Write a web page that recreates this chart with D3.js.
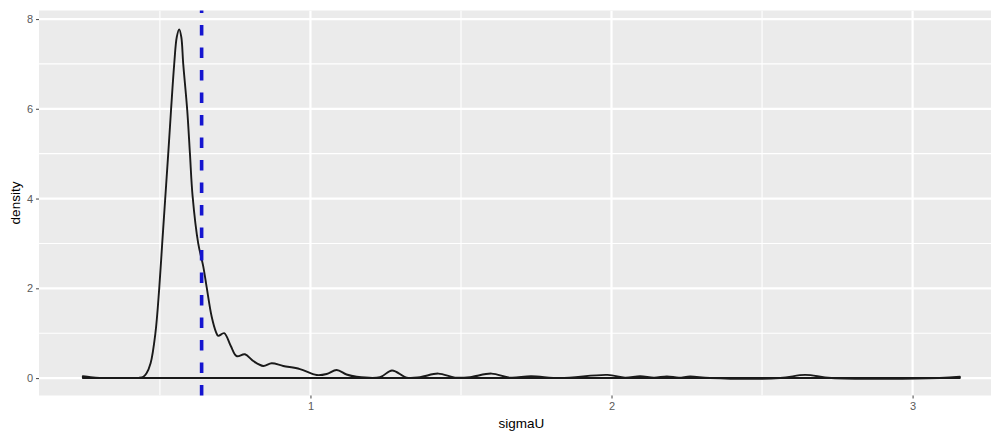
<!DOCTYPE html>
<html>
<head>
<meta charset="utf-8">
<script src="https://cdn.jsdelivr.net/npm/d3@7"></script>
<style>
  html, body { margin: 0; padding: 0; background: #ffffff; }
  svg { display: block; }
  text { font-family: "Liberation Sans", Arial, sans-serif; }
</style>
</head>
<body>
<svg id="chart" width="991" height="432"></svg>
<script>
// Kernel density estimate of sigmaU (x) and its density (y)
const sigmaU = [0.244, 0.27, 0.30, 0.35, 0.40, 0.43, 0.445, 0.455, 0.469, 0.485, 0.4977, 0.5076, 0.5176, 0.5276, 0.5372,
  0.5475, 0.556, 0.564, 0.571, 0.5774, 0.5907, 0.5997, 0.6086, 0.6272, 0.6439, 0.6551, 0.6718, 0.686, 0.6937,
  0.7133, 0.735, 0.7548, 0.7824, 0.81, 0.8432, 0.8711, 0.9096, 0.9651, 1.0206, 1.0538, 1.087, 1.12, 1.1535, 1.2309,
  1.2708, 1.3196, 1.3638, 1.4246, 1.48, 1.53, 1.6013, 1.6628, 1.7326, 1.83, 1.9867, 2.045, 2.095, 2.141,
  2.184, 2.224, 2.261, 2.327, 2.56, 2.643, 2.73, 3.09, 3.157];
const density = [0.04, 0.02, 0.005, 0.0, 0.0, 0.005, 0.03, 0.1, 0.33, 1.0, 2.0, 3.0, 4.0, 5.0, 6.0,
  7.0, 7.6, 7.77, 7.6, 7.0, 5.97, 5.0, 4.05, 3.0, 2.49, 2.03, 1.37, 1.03, 0.94,
  1.0, 0.72, 0.49, 0.53, 0.38, 0.27, 0.33, 0.27, 0.2, 0.067, 0.09, 0.18, 0.08, 0.03, 0.02,
  0.17, 0.01, 0.02, 0.1, 0.01, 0.02, 0.1, 0.01, 0.04, 0.0, 0.07, 0.01, 0.04, 0.01,
  0.035, 0.01, 0.035, 0.0, 0.0, 0.07, 0.0, 0.0, 0.03];

// Reference line (dashed blue) on sigmaU
const refValue = 0.6385;

// Axis ticks
const xMajor = [1, 2, 3];
const xMinor = [0.5, 1.5, 2.5];
const yMajor = [0, 2, 4, 6, 8];
const yMinor = [1, 3, 5, 7];
const xLabel = "sigmaU";
const yLabel = "density";

const svg = d3.select("#chart");
const panel = { left: 39, right: 1003.7, top: 10.5, bottom: 395.5 };

// ggplot-style 5% expansion of the data range
const xExt = d3.extent(sigmaU);
const xPad = (xExt[1] - xExt[0]) * 0.05;
const yMax = d3.max(density);
const yPad = yMax * 0.05;
const x = d3.scaleLinear().domain([xExt[0] - xPad, xExt[1] + xPad]).range([panel.left, panel.right]);
const y = d3.scaleLinear().domain([-yPad, 8.19]).range([panel.bottom, panel.top]);

svg.append("defs").append("clipPath").attr("id", "clip")
  .append("rect")
  .attr("x", panel.left).attr("y", panel.top)
  .attr("width", panel.right - panel.left).attr("height", panel.bottom - panel.top);

// Panel background
svg.append("rect")
  .attr("x", panel.left).attr("y", panel.top)
  .attr("width", panel.right - panel.left).attr("height", panel.bottom - panel.top)
  .attr("fill", "#ebebeb");

const grid = svg.append("g").attr("clip-path", "url(#clip)");
grid.selectAll(".ymin").data(yMinor).join("line")
  .attr("x1", panel.left).attr("x2", panel.right)
  .attr("y1", d => y(d)).attr("y2", d => y(d))
  .attr("stroke", "#ffffff").attr("stroke-width", 1.1);
grid.selectAll(".xmin").data(xMinor).join("line")
  .attr("y1", panel.top).attr("y2", panel.bottom)
  .attr("x1", d => x(d)).attr("x2", d => x(d))
  .attr("stroke", "#ffffff").attr("stroke-width", 1.1);
grid.selectAll(".ymaj").data(yMajor).join("line")
  .attr("x1", panel.left).attr("x2", panel.right)
  .attr("y1", d => y(d)).attr("y2", d => y(d))
  .attr("stroke", "#ffffff").attr("stroke-width", 2.2);
grid.selectAll(".xmaj").data(xMajor).join("line")
  .attr("y1", panel.top).attr("y2", panel.bottom)
  .attr("x1", d => x(d)).attr("x2", d => x(d))
  .attr("stroke", "#ffffff").attr("stroke-width", 2.2);

// Density outline (closed polygon along the baseline)
const pts = sigmaU.map((v, i) => [v, density[i]]);
const area = d3.area()
  .x(d => x(d[0]))
  .y0(y(0))
  .y1(d => y(Math.max(0, d[1])))
  .curve(d3.curveCatmullRom.alpha(0.5));
svg.append("path")
  .attr("clip-path", "url(#clip)")
  .attr("d", area(pts))
  .attr("fill", "none")
  .attr("stroke", "#1a1a1a")
  .attr("stroke-width", 1.9)
  .attr("stroke-linejoin", "round");

// Dashed reference line
svg.append("line")
  .attr("x1", x(refValue)).attr("x2", x(refValue))
  .attr("y1", panel.bottom).attr("y2", panel.top)
  .attr("stroke", "#1515d0")
  .attr("stroke-width", 3.6)
  .attr("stroke-dasharray", "10.5,12");

// Axes
const xAxis = d3.axisBottom(x).tickValues(xMajor).tickSize(3).tickPadding(4).tickFormat(d3.format("d"));
const yAxis = d3.axisLeft(y).tickValues(yMajor).tickSize(3).tickPadding(3).tickFormat(d3.format("d"));

const gx = svg.append("g").attr("transform", `translate(0,${panel.bottom})`).call(xAxis);
const gy = svg.append("g").attr("transform", `translate(${panel.left},0)`).call(yAxis);
[gx, gy].forEach(g => {
  g.select(".domain").remove();
  g.selectAll(".tick line").attr("stroke", "#555555").attr("stroke-width", 1.1);
  g.selectAll(".tick text").attr("fill", "#5a5a5a").style("font-size", "11px")
    .style("font-family", "'Liberation Sans', Arial, sans-serif");
});

svg.append("text")
  .attr("x", (panel.left + panel.right) / 2).attr("y", 428)
  .attr("text-anchor", "middle")
  .style("font-size", "13.5px").attr("fill", "#000")
  .text(xLabel);

svg.append("text")
  .attr("transform", `translate(20,${(panel.top + panel.bottom) / 2}) rotate(-90)`)
  .attr("text-anchor", "middle")
  .style("font-size", "13.5px").attr("fill", "#000")
  .text(yLabel);
</script>
</body>
</html>
